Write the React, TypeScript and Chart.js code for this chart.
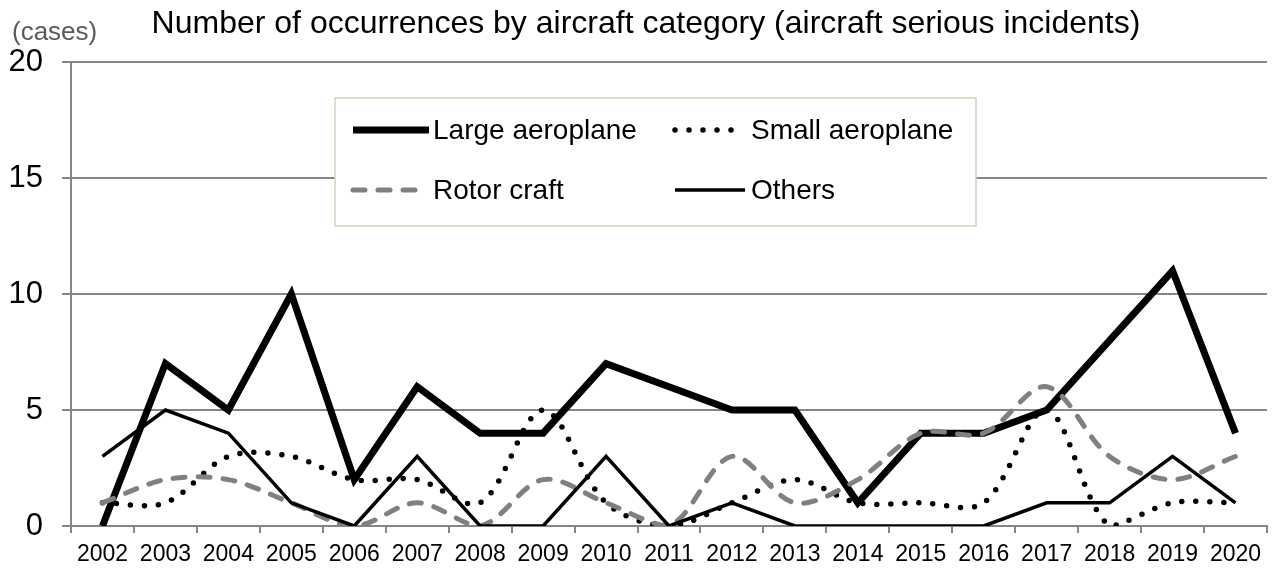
import React, { useEffect, useRef } from "react";
import { Chart, registerables } from "chart.js";

Chart.register(...registerables);

const YEARS = ["2002", "2003", "2004", "2005", "2006", "2007", "2008", "2009", "2010", "2011", "2012", "2013", "2014", "2015", "2016", "2017", "2018", "2019", "2020"];
const LARGE = [0, 7, 5, 10, 2, 6, 4, 4, 7, 6, 5, 5, 1, 4, 4, 5, 8, 11, 4];
const SMALL = [1, 1, 3, 3, 2, 2, 1, 5, 1, 0, 1, 2, 1, 1, 1, 5, 0, 1, 1];
const ROTOR = [1, 2, 2, 1, 0, 1, 0, 2, 1, 0, 3, 1, 2, 4, 4, 6, 3, 2, 3];
const OTHERS = [3, 5, 4, 1, 0, 3, 0, 0, 3, 0, 1, 0, 0, 0, 0, 1, 1, 3, 1];
const SERIES_NAMES = ["Large aeroplane", "Small aeroplane", "Rotor craft", "Others"];
const Y_MIN = 0;
const Y_MAX = 20;
const Y_STEP = 5;
const TITLE = "Number of occurrences by aircraft category (aircraft serious incidents)";
const UNIT = "(cases)";

const FONT = "'Liberation Sans', Arial, sans-serif";
const GRID = "#868686";

const overlayPlugin = {
  id: "overlay",
  afterDraw(chart: any) {
    const ctx = chart.ctx;
    ctx.save();
    // title
    ctx.fillStyle = "#000";
    ctx.font = `32px ${FONT}`;
    ctx.textAlign = "center";
    ctx.textBaseline = "alphabetic";
    ctx.fillText(TITLE, 646, 33);
    // unit
    ctx.fillStyle = "#595959";
    ctx.font = `26px ${FONT}`;
    ctx.textAlign = "left";
    ctx.fillText(UNIT, 12, 40);

    // legend box
    ctx.fillStyle = "#ffffff";
    ctx.strokeStyle = "#d6d2bf";
    ctx.lineWidth = 1.5;
    ctx.fillRect(335, 98, 641, 128);
    ctx.strokeRect(335, 98, 641, 128);

    const slots = [
      { x0: 353, x1: 429, y: 130, tx: 433 },
      { x0: 675, x1: 735, y: 130, tx: 751 },
      { x0: 353, x1: 427, y: 190, tx: 433 },
      { x0: 675, x1: 745, y: 190, tx: 751 },
    ];
    chart.data.datasets.forEach((ds: any, i: number) => {
      const s = slots[i];
      ctx.save();
      ctx.strokeStyle = ds.borderColor;
      ctx.lineWidth = ds.borderWidth;
      ctx.lineCap = ds.borderCapStyle || "butt";
      ctx.setLineDash(ds.borderDash || []);
      ctx.beginPath();
      ctx.moveTo(s.x0, s.y);
      ctx.lineTo(s.x1, s.y);
      ctx.stroke();
      ctx.restore();
      ctx.fillStyle = "#000";
      ctx.font = `28px ${FONT}`;
      ctx.textAlign = "left";
      ctx.textBaseline = "middle";
      ctx.fillText(ds.label, s.tx, s.y + 1);
    });
    ctx.restore();
  },
};

export default function App() {
  const ref = useRef<HTMLCanvasElement | null>(null);
  useEffect(() => {
    if (!ref.current) return;
    const chart = new Chart(ref.current, {
      type: "line",
      data: {
        labels: YEARS,
        datasets: [
          {
            label: SERIES_NAMES[0],
            data: LARGE,
            borderColor: "#000000",
            borderWidth: 7,
            tension: 0,
            pointRadius: 0,
            borderJoinStyle: "miter",
            order: 4,
          },
          {
            label: SERIES_NAMES[1],
            data: SMALL,
            borderColor: "#000000",
            borderWidth: 5.5,
            borderDash: [0, 14],
            borderCapStyle: "round",
            tension: 0.33,
            pointRadius: 0,
            order: 3,
          },
          {
            label: SERIES_NAMES[2],
            data: ROTOR,
            borderColor: "#808080",
            borderWidth: 5,
            borderDash: [12, 13],
            borderCapStyle: "round",
            tension: 0.33,
            pointRadius: 0,
            order: 2,
          },
          {
            label: SERIES_NAMES[3],
            data: OTHERS,
            borderColor: "#000000",
            borderWidth: 3.5,
            tension: 0,
            pointRadius: 0,
            order: 1,
          },
        ] as any,
      },
      options: {
        animation: false,
        responsive: true,
        maintainAspectRatio: false,
        devicePixelRatio: 1,
        layout: { padding: { top: 62, right: 7, bottom: 0, left: 0 } },
        plugins: {
          legend: { display: false },
          title: { display: false },
          tooltip: { enabled: false },
        },
        scales: {
          x: {
            type: "category",
            offset: true,
            grid: {
              display: true,
              drawOnChartArea: false,
              drawTicks: true,
              tickLength: 7,
              offset: true,
              color: GRID,
              lineWidth: 2,
            },
            border: { display: true, color: GRID, width: 2 },
            ticks: {
              color: "#000",
              font: { family: FONT, size: 23 },
              padding: 8,
              maxRotation: 0,
              autoSkip: false,
            },
            afterFit(scale: any) {
              scale.height = 46;
            },
          },
          y: {
            min: Y_MIN,
            max: Y_MAX,
            grid: {
              color: GRID,
              lineWidth: 2,
              drawTicks: true,
              tickLength: 9,
            },
            border: { display: true, color: GRID, width: 2 },
            ticks: {
              stepSize: Y_STEP,
              color: "#000",
              font: { family: FONT, size: 31 },
              padding: 19,
            },
            afterFit(scale: any) {
              scale.width = 71;
            },
          },
        },
      } as any,
      plugins: [overlayPlugin],
    });
    return () => chart.destroy();
  }, []);
  return (
    <div style={{ position: "absolute", left: 0, top: 0, width: 1274, height: 572, background: "#fff" }}>
      <canvas ref={ref} />
    </div>
  );
}
